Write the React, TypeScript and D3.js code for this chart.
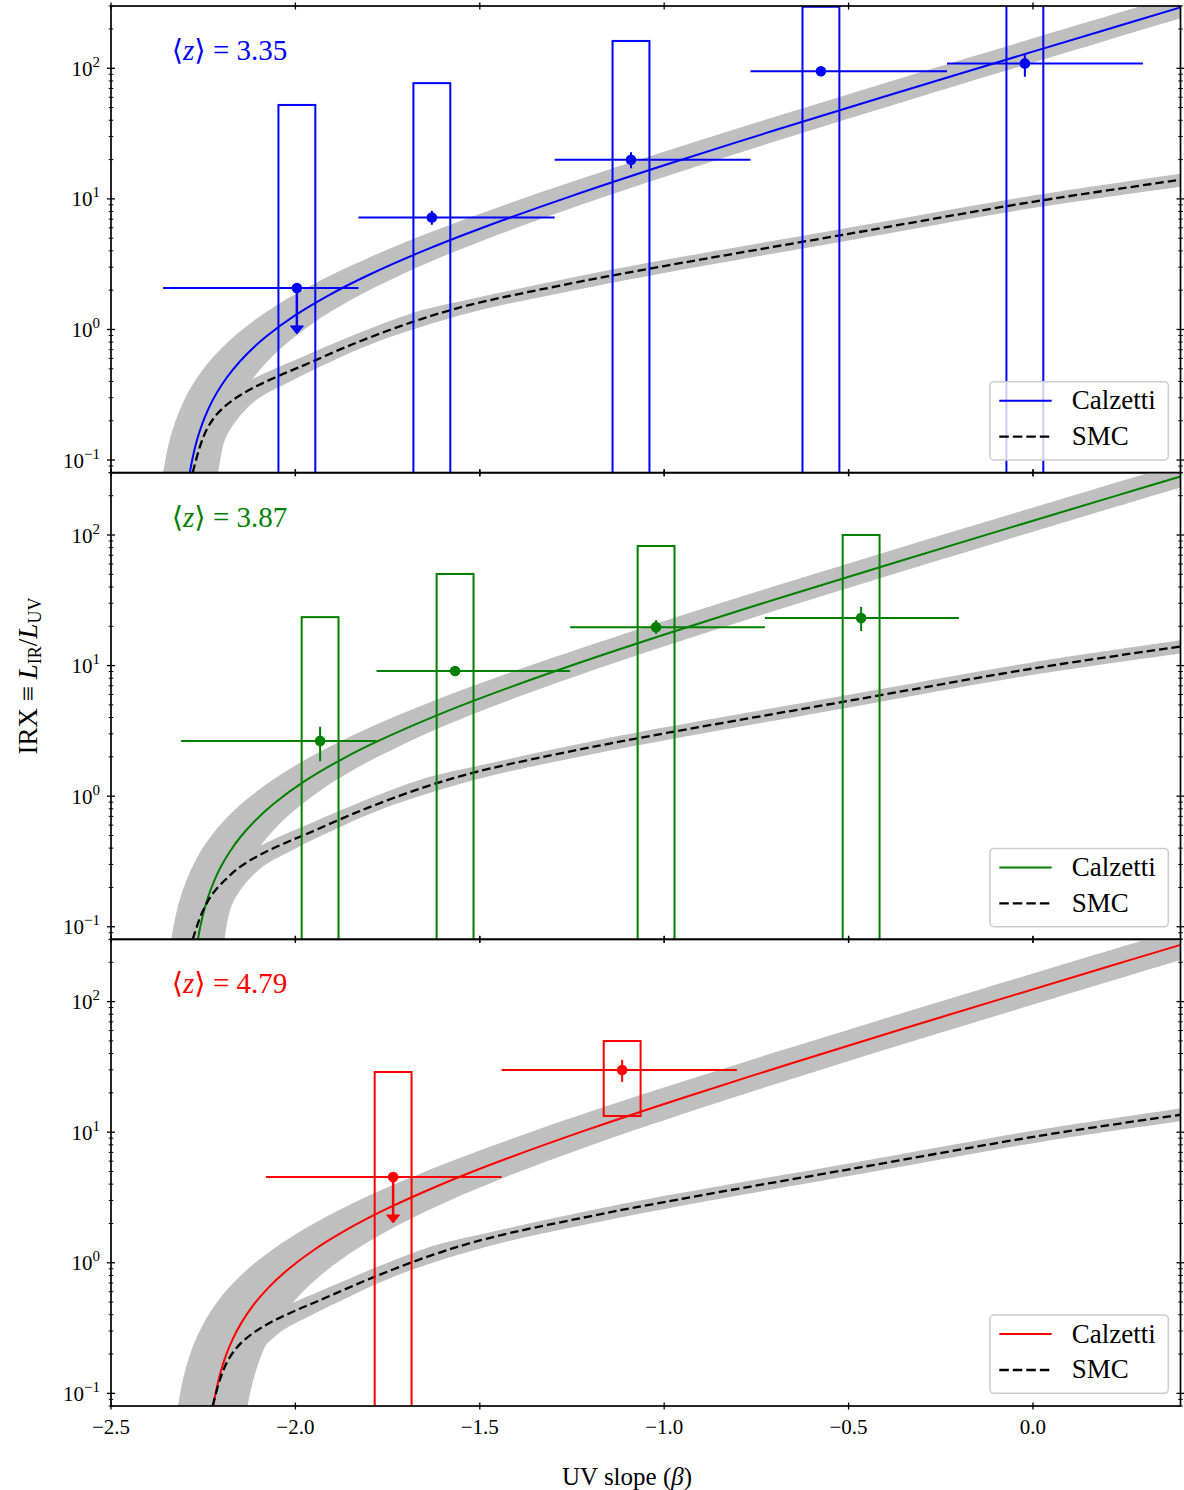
import React from "react";
import * as d3 from "d3";

type P = [number, number];

// ---------------- DATA (beta, IRX) ----------------
const zMeanLabels = ["3.35", "3.87", "4.79"];
const seriesColors = ["#0000ff", "#008000", "#ff0000"];

// Panel 1 (<z> = 3.35)
const calzettiCurve1: P[] = [[-2.2862,0.08],[-2.28,0.0997],[-2.27,0.1319],[-2.26,0.1648],[-2.245,0.2151],[-2.225,0.2851],[-2.2,0.3757],[-2.17,0.491],[-2.13,0.6549],[-2.08,0.879],[-2.0,1.286],[-1.9,1.891],[-1.8,2.625],[-1.65,4.031],[-1.5,5.91],[-1.25,10.55],[-1.0,18.08],[-0.7,33.52],[-0.4,61.1],[-0.1,110.4],[0.2,198.5],[0.4,293]];
const calzettiBandUpper1: P[] = [[-2.3585,0.08],[-2.35,0.1096],[-2.335,0.163],[-2.315,0.2367],[-2.29,0.3332],[-2.26,0.4549],[-2.22,0.6285],[-2.17,0.8658],[-2.1,1.238],[-2.0,1.868],[-1.85,3.07],[-1.65,5.325],[-1.4,9.697],[-1.1,18.67],[-0.8,34.7],[-0.5,63.33],[-0.2,114.5],[0.1,205.9],[0.4,369.3]];
const calzettiBandLower1: P[] = [[-2.2194,0.08],[-2.21,0.1082],[-2.195,0.1541],[-2.175,0.2175],[-2.15,0.3001],[-2.12,0.4047],[-2.08,0.5538],[-2.03,0.7573],[-1.95,1.127],[-1.85,1.678],[-1.7,2.73],[-1.5,4.705],[-1.2,9.545],[-0.9,18.19],[-0.6,33.65],[-0.3,61.26],[0.0,110.6],[0.2,163.6],[0.4,241.6]];
const smcCurve1: P[] = [[-2.2785,0.08],[-2.2587,0.127],[-2.2383,0.176],[-2.21,0.229],[-2.169,0.289],[-2.118,0.353],[-2.055,0.429],[-1.988,0.516],[-1.84,0.78],[-1.68,1.148],[-1.527,1.54],[-1.25,2.26],[-1.0,3.06],[-0.5,5.4],[0.0,9.5],[0.4,14.0]];
const smcBandUpper1: P[] = [[-2.31,0.08],[-2.28,0.14],[-2.25,0.2],[-2.21,0.27],[-2.169,0.338],[-2.118,0.413],[-2.055,0.502],[-1.988,0.604],[-1.84,0.91],[-1.68,1.343],[-1.527,1.7],[-1.25,2.5],[-1.0,3.4],[-0.5,6.0],[0.0,10.6],[0.4,15.6]];
const smcBandLower1: P[] = [[-2.209,0.08],[-2.191,0.143],[-2.159,0.203],[-2.105,0.289],[-2.024,0.387],[-1.951,0.49],[-1.78,0.8],[-1.527,1.34],[-1.25,1.98],[-1.0,2.71],[-0.5,4.8],[0.0,8.5],[0.4,12.4]];
const betaPts1 = [-1.996, -1.63, -1.09, -0.575, -0.022];
const irxPts1 = [2.08, 7.2, 19.9, 95, 109];
const irxLow1 = [0, 6.35, 17.2, 91, 86];
const irxHigh1 = [0, 8.1, 22.8, 99, 131];
const upperLimit1 = [true, false, false, false, false];
const binLo1 = [-2.359, -1.829, -1.297, -0.766, -0.233];
const binHi1 = [-1.829, -1.297, -0.766, -0.233, 0.298];
const boxTop1 = [52.4, 77, 162, 296, 1000];
const boxBottom1 = [0.01, 0.01, 0.01, 0.01, 0.01];

// Panel 2 (<z> = 3.87)
const calzettiCurve2: P[] = [[-2.2642,0.08],[-2.258,0.0997],[-2.248,0.1319],[-2.238,0.1648],[-2.223,0.2151],[-2.203,0.2851],[-2.178,0.3757],[-2.148,0.491],[-2.108,0.6549],[-2.058,0.879],[-1.978,1.286],[-1.878,1.891],[-1.778,2.625],[-1.628,4.031],[-1.478,5.91],[-1.228,10.55],[-0.978,18.08],[-0.678,33.52],[-0.378,61.1],[-0.078,110.4],[0.222,198.5],[0.4,280.7]];
const calzettiBandUpper2: P[] = [[-2.3365,0.08],[-2.328,0.1096],[-2.313,0.163],[-2.293,0.2367],[-2.268,0.3332],[-2.238,0.4549],[-2.198,0.6285],[-2.148,0.8658],[-2.078,1.238],[-1.978,1.868],[-1.828,3.07],[-1.628,5.325],[-1.378,9.697],[-1.078,18.67],[-0.778,34.7],[-0.478,63.33],[-0.178,114.5],[0.122,205.9],[0.4,354]];
const calzettiBandLower2: P[] = [[-2.1974,0.08],[-2.188,0.1082],[-2.173,0.1541],[-2.153,0.2175],[-2.128,0.3001],[-2.098,0.4047],[-2.058,0.5538],[-2.008,0.7573],[-1.928,1.127],[-1.828,1.678],[-1.678,2.73],[-1.478,4.705],[-1.178,9.545],[-0.878,18.19],[-0.578,33.65],[-0.278,61.26],[0.022,110.6],[0.222,163.6],[0.4,231.4]];
const smcCurve2: P[] = [[-2.2785,0.08],[-2.2537,0.127],[-2.2263,0.176],[-2.19,0.229],[-2.149,0.289],[-2.098,0.353],[-2.035,0.429],[-1.968,0.516],[-1.82,0.78],[-1.66,1.148],[-1.507,1.54],[-1.235,2.26],[-0.99,3.06],[-0.495,5.4],[0.0,9.5],[0.4,14.0]];
const smcBandUpper2: P[] = [[-2.29,0.08],[-2.26,0.14],[-2.23,0.2],[-2.19,0.27],[-2.149,0.338],[-2.098,0.413],[-2.035,0.502],[-1.968,0.604],[-1.82,0.91],[-1.66,1.343],[-1.507,1.7],[-1.235,2.5],[-0.99,3.4],[-0.495,6.0],[0.0,10.6],[0.4,15.6]];
const smcBandLower2: P[] = [[-2.192,0.08],[-2.174,0.143],[-2.142,0.203],[-2.088,0.289],[-2.007,0.387],[-1.934,0.49],[-1.763,0.8],[-1.51,1.34],[-1.24,1.98],[-0.99,2.71],[-0.495,4.8],[0.0,8.5],[0.4,12.4]];
const betaPts2 = [-1.933, -1.567, -1.022, -0.466];
const irxPts2 = [2.65, 9.1, 19.7, 23.1];
const irxLow2 = [1.85, 8.6, 17.5, 18.4];
const irxHigh2 = [3.4, 9.6, 22.3, 28.1];
const upperLimit2 = [false, false, false, false];
const binLo2 = [-2.31, -1.78, -1.255, -0.727];
const binHi2 = [-1.78, -1.255, -0.727, -0.201];
const boxTop2 = [23.5, 50.3, 82.4, 100];
const boxBottom2 = [0.01, 0.01, 0.01, 0.01];

// Panel 3 (<z> = 4.79)
const calzettiCurve3: P[] = [[-2.2225,0.08],[-2.215,0.1045],[-2.205,0.138],[-2.19,0.1893],[-2.17,0.2601],[-2.145,0.3527],[-2.115,0.4704],[-2.075,0.637],[-2.025,0.8653],[-1.95,1.252],[-1.85,1.863],[-1.75,2.605],[-1.6,4.028],[-1.45,5.931],[-1.2,10.64],[-0.95,18.29],[-0.65,34.01],[-0.35,62.16],[-0.05,112.6],[0.2,184.0],[0.4,272.1]];
const calzettiBandUpper3: P[] = [[-2.318,0.08],[-2.31,0.1088],[-2.3,0.1454],[-2.285,0.2019],[-2.265,0.2793],[-2.24,0.3807],[-2.21,0.5099],[-2.17,0.6927],[-2.12,0.943],[-2.04,1.397],[-1.94,2.073],[-1.8,3.272],[-1.6,5.661],[-1.35,10.3],[-1.05,19.83],[-0.75,36.91],[-0.45,67.47],[-0.15,122.2],[0.15,220.3],[0.4,358.9]];
const calzettiBandLower3: P[] = [[-2.1296,0.08],[-2.12,0.1088],[-2.105,0.155],[-2.087,0.2126],[-2.06,0.3025],[-2.025,0.427],[-1.975,0.619],[-1.9,0.9449],[-1.8,1.461],[-1.65,2.448],[-1.45,4.304],[-1.2,7.904],[-0.9,15.31],[-0.6,28.56],[-0.3,52.31],[0.0,94.83],[0.2,140.5],[0.4,208]];
const smcCurve3: P[] = [[-2.2245,0.08],[-2.2047,0.127],[-2.1843,0.176],[-2.156,0.229],[-2.115,0.289],[-2.064,0.353],[-2.001,0.429],[-1.934,0.516],[-1.786,0.78],[-1.628,1.148],[-1.477,1.54],[-1.205,2.26],[-0.96,3.06],[-0.465,5.4],[0.03,9.5],[0.4,13.6]];
const smcBandUpper3: P[] = [[-2.256,0.08],[-2.226,0.14],[-2.196,0.2],[-2.156,0.27],[-2.115,0.338],[-2.064,0.413],[-2.001,0.502],[-1.934,0.604],[-1.786,0.91],[-1.628,1.343],[-1.477,1.7],[-1.205,2.5],[-0.96,3.4],[-0.465,6.0],[0.03,10.6],[0.4,15.2]];
const smcBandLower3: P[] = [[-2.149,0.08],[-2.131,0.143],[-2.099,0.203],[-2.045,0.289],[-1.964,0.387],[-1.891,0.49],[-1.725,0.8],[-1.477,1.34],[-1.205,1.98],[-0.96,2.71],[-0.465,4.8],[0.03,8.5],[0.4,12.1]];
const betaPts3 = [-1.735, -1.114];
const irxPts3 = [4.54, 29.9];
const irxLow3 = [0, 24.3];
const irxHigh3 = [0, 35.8];
const upperLimit3 = [true, false];
const binLo3 = [-2.08, -1.441];
const binHi3 = [-1.441, -0.803];
const boxTop3 = [28.9, 49.9];
const boxBottom3 = [0.01, 13.3];

const boxHalfWidth = 0.05;
const xTickValues = [-2.5, -2.0, -1.5, -1.0, -0.5, 0.0];
const xTickLabels = ["\u22122.5", "\u22122.0", "\u22121.5", "\u22121.0", "\u22120.5", "0.0"];
const yMajorValues = [0.1, 1, 10, 100];
const yMajorExponents = ["\u22121", "0", "1", "2"];
const xDomain: [number, number] = [-2.5, 0.4];
const yDomain: [number, number] = [0.08, 300];

// ---------------- LAYOUT ----------------
const X_LEFT = 111;
const X_RIGHT = 1180.5;
const PANEL_TOPS = [6, 472.7, 939.3];
const PANEL_H = 466.7;
const FONT = "'Liberation Serif', 'DejaVu Serif', serif";
const GRAY = "#bfbfbf";

const xScale = d3.scaleLinear().domain(xDomain).range([X_LEFT, X_RIGHT]);

const panels = [
  { color: seriesColors[0], z: zMeanLabels[0], calz: calzettiCurve1, calzUp: calzettiBandUpper1, calzLo: calzettiBandLower1, smc: smcCurve1, smcUp: smcBandUpper1, smcLo: smcBandLower1, beta: betaPts1, irx: irxPts1, lo: irxLow1, hi: irxHigh1, lim: upperLimit1, binLo: binLo1, binHi: binHi1, boxTop: boxTop1, boxBottom: boxBottom1 },
  { color: seriesColors[1], z: zMeanLabels[1], calz: calzettiCurve2, calzUp: calzettiBandUpper2, calzLo: calzettiBandLower2, smc: smcCurve2, smcUp: smcBandUpper2, smcLo: smcBandLower2, beta: betaPts2, irx: irxPts2, lo: irxLow2, hi: irxHigh2, lim: upperLimit2, binLo: binLo2, binHi: binHi2, boxTop: boxTop2, boxBottom: boxBottom2 },
  { color: seriesColors[2], z: zMeanLabels[2], calz: calzettiCurve3, calzUp: calzettiBandUpper3, calzLo: calzettiBandLower3, smc: smcCurve3, smcUp: smcBandUpper3, smcLo: smcBandLower3, beta: betaPts3, irx: irxPts3, lo: irxLow3, hi: irxHigh3, lim: upperLimit3, binLo: binLo3, binHi: binHi3, boxTop: boxTop3, boxBottom: boxBottom3 },
];

function Panel({ i, p }: { i: number; p: any }) {
  const top = PANEL_TOPS[i];
  const bottom = top + PANEL_H;
  const y = d3.scaleLog().domain(yDomain).range([bottom, top]);
  const line = d3.line<P>().x((d) => xScale(d[0])).y((d) => y(d[1])).curve(d3.curveCatmullRom.alpha(0.5));
  const band = (u: P[], l: P[]) => {
    const a = line(u) as string;
    const b = line([...l].reverse()) as string;
    return a + "L" + b.slice(1) + "Z";
  };
  const clip = `clip-panel-${i}`;
  const allTicks = y.ticks();
  const isMajor = (v: number) => yMajorValues.some((m) => Math.abs(m - v) / m < 1e-6);
  const minorTicks = allTicks.filter((v) => !isMajor(v));
  const lw = 2;
  const legTop = top + 375.7;

  return (
    <g>
      <defs>
        <clipPath id={clip}>
          <rect x={X_LEFT} y={top} width={X_RIGHT - X_LEFT} height={PANEL_H} />
        </clipPath>
      </defs>
      <g clipPath={`url(#${clip})`}>
        <path d={band(p.calzUp, p.calzLo)} fill={GRAY} />
        <path d={band(p.smcUp, p.smcLo)} fill={GRAY} />
        <path d={line(p.calz) as string} fill="none" stroke={p.color} strokeWidth={2} />
        <path d={line(p.smc) as string} fill="none" stroke="#000" strokeWidth={2.3} strokeDasharray="8.5,4" />
        {p.beta.map((b: number, k: number) => (
          <rect key={"box" + k} x={xScale(b - boxHalfWidth)} y={y(p.boxTop[k])}
            width={xScale(b + boxHalfWidth) - xScale(b - boxHalfWidth)}
            height={y(p.boxBottom[k]) - y(p.boxTop[k])}
            fill="none" stroke={p.color} strokeWidth={lw} />
        ))}
        {p.beta.map((b: number, k: number) => {
          const cx = xScale(b);
          const cy = y(p.irx[k]);
          return (
            <g key={"pt" + k}>
              <line x1={xScale(p.binLo[k])} x2={xScale(p.binHi[k])} y1={cy} y2={cy} stroke={p.color} strokeWidth={lw} />
              {!p.lim[k] && (
                <line x1={cx} x2={cx} y1={y(p.lo[k])} y2={y(p.hi[k])} stroke={p.color} strokeWidth={lw} />
              )}
              {p.lim[k] && (
                <g>
                  <line x1={cx} x2={cx} y1={cy} y2={cy + 40} stroke={p.color} strokeWidth={2.5} />
                  <path d={`M${cx - 6.5},${cy + 38}L${cx + 6.5},${cy + 38}L${cx},${cy + 46}Z`} fill={p.color} stroke={p.color} strokeWidth={1} />
                </g>
              )}
              <circle cx={cx} cy={cy} r={5.3} fill={p.color} />
            </g>
          );
        })}
      </g>

      {/* title */}
      <text x={171.7} y={top + 54} fontSize={29} fill={p.color} fontFamily={FONT}>
        <tspan>{"\u27E8"}</tspan>
        <tspan fontStyle="italic">z</tspan>
        <tspan>{"\u27E9 = " + p.z}</tspan>
      </text>

      {/* legend */}
      <rect x={990} y={legTop} width={178.3} height={78.3} rx={4} ry={4} fill="#ffffff" fillOpacity={0.8} stroke="#cccccc" strokeWidth={1.5} />
      <line x1={999.3} x2={1051.7} y1={legTop + 19} y2={legTop + 19} stroke={p.color} strokeWidth={2} />
      <line x1={999.3} x2={1051.7} y1={legTop + 55} y2={legTop + 55} stroke="#000" strokeWidth={2.3} strokeDasharray="9.5,4" />
      <text x={1071.7} y={legTop + 27.6} fontSize={27} fill="#000" fontFamily={FONT}>Calzetti</text>
      <text x={1071.7} y={legTop + 63.3} fontSize={27} fill="#000" fontFamily={FONT}>SMC</text>

      {/* spines */}
      <rect x={X_LEFT} y={top} width={X_RIGHT - X_LEFT} height={PANEL_H} fill="none" stroke="#000" strokeWidth={1.7} />

      {/* x ticks top & bottom (in-out) */}
      {xTickValues.map((v, k) => (
        <g key={"xt" + k}>
          <line x1={xScale(v)} x2={xScale(v)} y1={top - 3.5} y2={top + 3.5} stroke="#000" strokeWidth={1.3} />
          <line x1={xScale(v)} x2={xScale(v)} y1={bottom - 3.5} y2={bottom + 3.5} stroke="#000" strokeWidth={1.3} />
        </g>
      ))}
      {/* y major ticks */}
      {yMajorValues.map((v, k) => (
        <g key={"ym" + k}>
          <line x1={X_LEFT - 4} x2={X_LEFT + 4} y1={y(v)} y2={y(v)} stroke="#000" strokeWidth={1.3} />
          <line x1={X_RIGHT - 4} x2={X_RIGHT + 4} y1={y(v)} y2={y(v)} stroke="#000" strokeWidth={1.3} />
          <text x={100} y={y(v) + 7.5} fontSize={21} textAnchor="end" fill="#000" fontFamily={FONT}>
            <tspan>10</tspan>
            <tspan dy={-9} fontSize={15}>{yMajorExponents[k]}</tspan>
          </text>
        </g>
      ))}
      {/* y minor ticks */}
      {minorTicks.map((v, k) => (
        <g key={"yn" + k}>
          <line x1={X_LEFT - 2.3} x2={X_LEFT + 2.3} y1={y(v)} y2={y(v)} stroke="#000" strokeWidth={1} />
          <line x1={X_RIGHT - 2.3} x2={X_RIGHT + 2.3} y1={y(v)} y2={y(v)} stroke="#000" strokeWidth={1} />
        </g>
      ))}
    </g>
  );
}

export default function App() {
  const bottom = PANEL_TOPS[2] + PANEL_H;
  return (
    <svg width={1184} height={1490} style={{ position: "absolute", left: 0, top: 0, display: "block" }} fontFamily={FONT}>
      <rect x={0} y={0} width={1184} height={1490} fill="#ffffff" />
      {panels.map((p, i) => (
        <Panel key={i} i={i} p={p} />
      ))}
      {xTickValues.map((v, k) => (
        <text key={"xl" + k} x={xScale(v)} y={bottom + 27.5} fontSize={21} textAnchor="middle" fill="#000" fontFamily={FONT}>
          {xTickLabels[k]}
        </text>
      ))}
      <text x={627} y={1485} fontSize={25} textAnchor="middle" fill="#000" fontFamily={FONT}>
        <tspan>UV slope (</tspan>
        <tspan fontStyle="italic">{"\u03B2"}</tspan>
        <tspan>)</tspan>
      </text>
      <text transform="translate(37,676) rotate(-90)" fontSize={27} textAnchor="middle" fill="#000" fontFamily={FONT}>
        <tspan>{"IRX \u2261 "}</tspan>
        <tspan fontStyle="italic">L</tspan>
        <tspan fontSize={18} dy={4}>IR</tspan>
        <tspan dy={-4}>/</tspan>
        <tspan fontStyle="italic">L</tspan>
        <tspan fontSize={18} dy={4}>UV</tspan>
      </text>
    </svg>
  );
}
